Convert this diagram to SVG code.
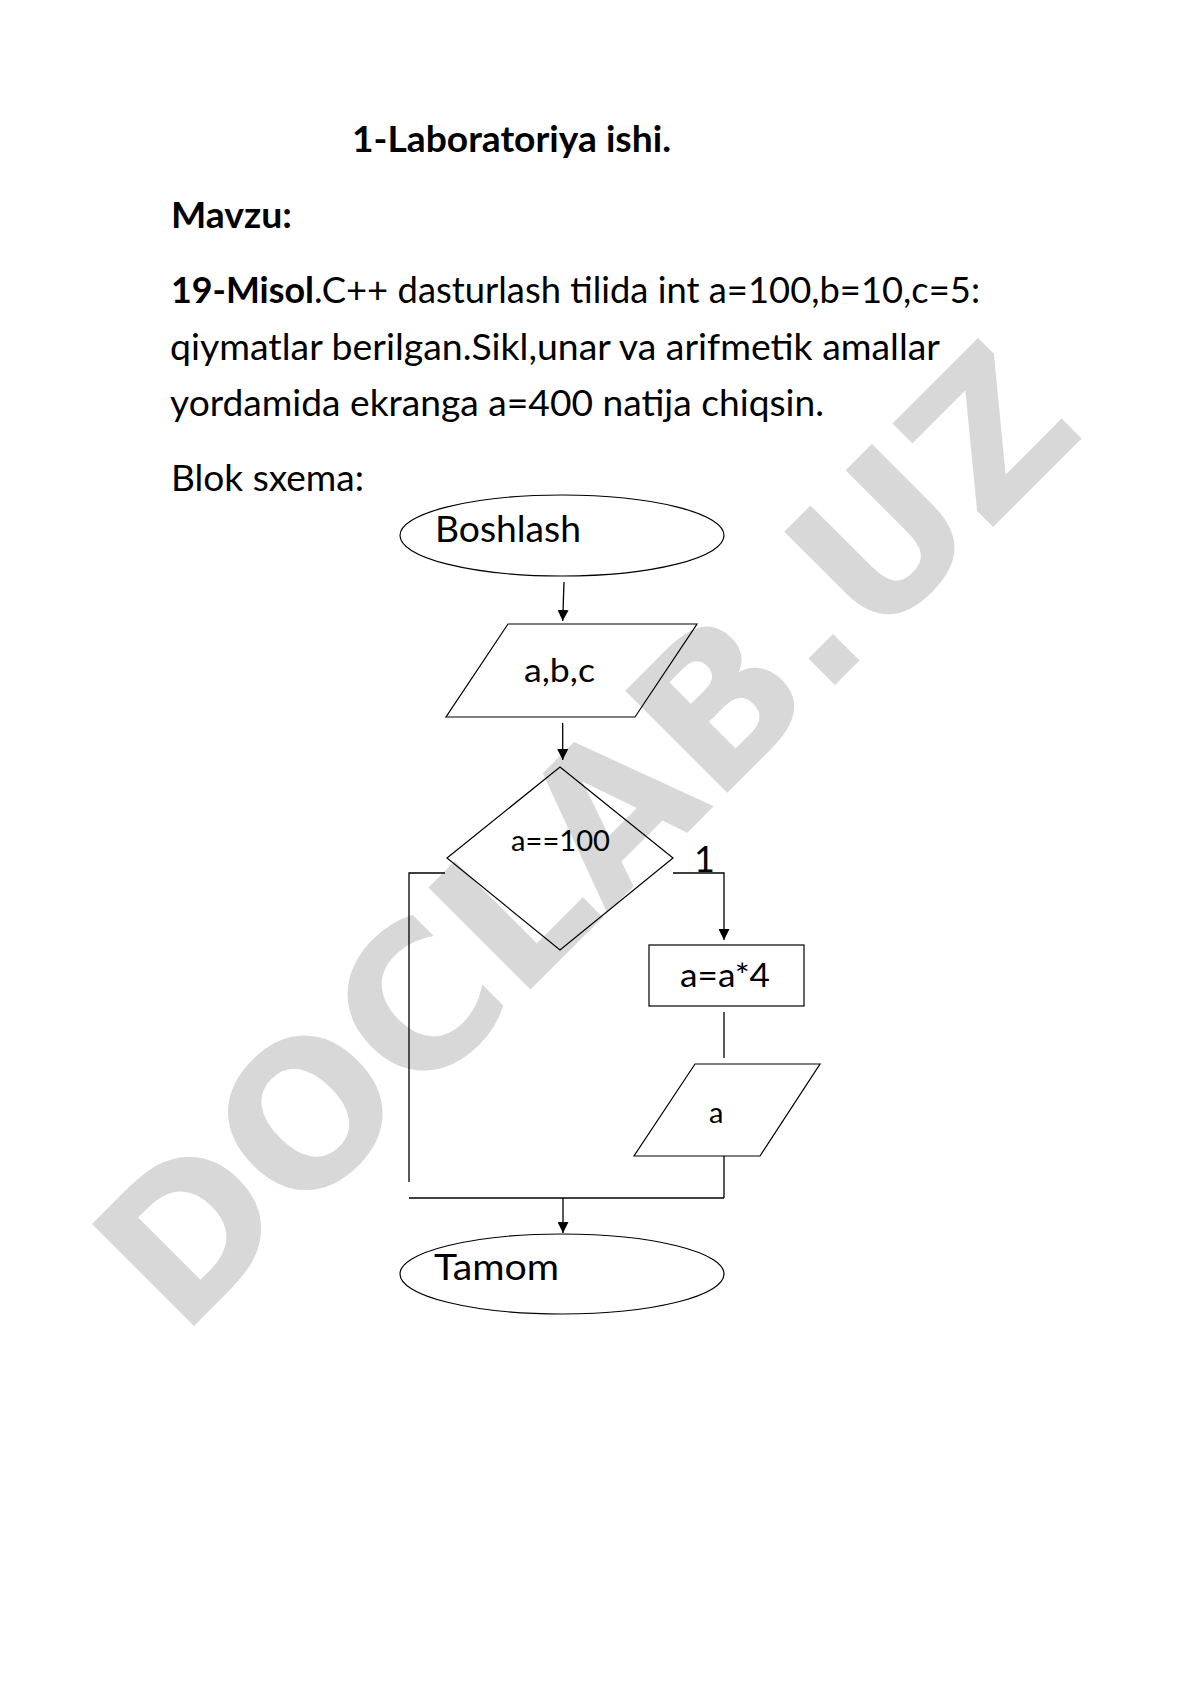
<svg xmlns="http://www.w3.org/2000/svg" width="1190" height="1683" viewBox="0 0 1190 1683">
<style>
  .t { font-family: Lato, Carlito, "Liberation Sans", sans-serif; fill: #000; }
  .b { font-weight: bold; }
  .body { font-size: 36px; }
  .shape { fill: none; stroke: #000; stroke-width: 1.2; }
  .conn { fill: none; stroke: #000; stroke-width: 1.3; }
  .wm { font-family: "DejaVu Sans", "Liberation Sans", sans-serif; font-weight: bold; font-size: 198px; fill: #d8d8d8; }
</style>
<defs>
  <marker id="arrow" markerUnits="userSpaceOnUse" markerWidth="11" markerHeight="11" viewBox="0 0 11 11" refX="11" refY="5.5" orient="auto">
    <path d="M0,0 L11,5.5 L0,11 z" fill="#000"/>
  </marker>
</defs>
<rect x="0" y="0" width="1190" height="1683" fill="#fff"/>
<g id="watermark">
  <text class="wm" transform="translate(181.3,1338.7) rotate(-45)" x="0" y="0" textLength="1282" lengthAdjust="spacingAndGlyphs">DOCLAB.UZ</text>
</g>
<g id="page-text">
  <text class="t b body" x="352" y="152" textLength="319" lengthAdjust="spacingAndGlyphs">1-Laboratoriya ishi.</text>
  <text class="t b body" x="171" y="228" textLength="121" lengthAdjust="spacingAndGlyphs">Mavzu:</text>
  <text class="t b body" x="171" y="303" textLength="143" lengthAdjust="spacingAndGlyphs">19-Misol</text>
  <text class="t body" x="314" y="303" textLength="666" lengthAdjust="spacingAndGlyphs">.C++ dasturlash tilida int a=100,b=10,c=5:</text>
  <text class="t body" x="170" y="360" textLength="770" lengthAdjust="spacingAndGlyphs">qiymatlar berilgan.Sikl,unar va arifmetik amallar</text>
  <text class="t body" x="170" y="416" textLength="654" lengthAdjust="spacingAndGlyphs">yordamida ekranga a=400 natija chiqsin.</text>
  <text class="t body" x="171" y="491" textLength="193" lengthAdjust="spacingAndGlyphs">Blok sxema:</text>
</g>
<g id="connectors">
  <line class="conn" x1="564" y1="582" x2="562.7" y2="621" marker-end="url(#arrow)"/>
  <line class="conn" x1="562.7" y1="723" x2="562.7" y2="760" marker-end="url(#arrow)"/>
  <polyline class="conn" points="673,873 724,873 724,940" marker-end="url(#arrow)"/>
  <polyline class="conn" points="445,873 409,873 409,1182"/>
  <line class="conn" x1="724" y1="1012" x2="724" y2="1058"/>
  <line class="conn" x1="724" y1="1156" x2="724" y2="1198"/>
  <line class="conn" x1="409" y1="1198" x2="724" y2="1198"/>
  <line class="conn" x1="563" y1="1198" x2="563" y2="1233" marker-end="url(#arrow)"/>
  <text class="t" x="694" y="872" font-size="36">1</text>
</g>
<g id="start">
  <ellipse class="shape" cx="562" cy="535.5" rx="162" ry="40.5"/>
  <text class="t" x="435" y="542" font-size="36" textLength="146" lengthAdjust="spacingAndGlyphs">Boshlash</text>
</g>
<g id="input">
  <polygon class="shape" points="508,624 697,624 635,717 446,717"/>
  <text class="t" x="524" y="682" font-size="32" textLength="71" lengthAdjust="spacingAndGlyphs">a,b,c</text>
</g>
<g id="decision">
  <polygon class="shape" points="560,767 673,858 560,950 447,858"/>
  <text class="t" x="511" y="851" font-size="29" textLength="99" lengthAdjust="spacingAndGlyphs">a==100</text>
</g>
<g id="process">
  <rect class="shape" x="649" y="945" width="155" height="61"/>
  <text class="t" x="680" y="987" font-size="32" textLength="90" lengthAdjust="spacingAndGlyphs">a=a*4</text>
</g>
<g id="output">
  <polygon class="shape" points="695,1064 820,1064 760,1156 634,1156"/>
  <text class="t" x="709" y="1123" font-size="29">a</text>
</g>
<g id="end">
  <ellipse class="shape" cx="562" cy="1274" rx="162" ry="40"/>
  <text class="t" x="434" y="1280" font-size="36" textLength="125" lengthAdjust="spacingAndGlyphs">Tamom</text>
</g>
</svg>
